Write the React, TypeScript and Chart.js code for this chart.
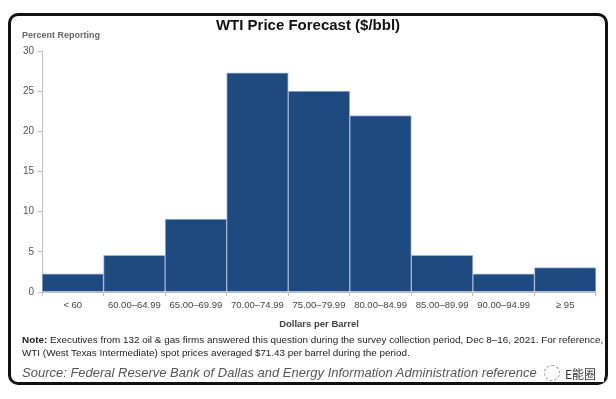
import React, { useEffect, useRef } from "react";
import { Chart, registerables } from "chart.js";

Chart.register(...registerables);

const categories = [
  "< 60",
  "60.00–64.99",
  "65.00–69.99",
  "70.00–74.99",
  "75.00–79.99",
  "80.00–84.99",
  "85.00–89.99",
  "90.00–94.99",
  "≥ 95",
];
const percentReporting = [2.27, 4.55, 9.09, 27.27, 25.0, 21.97, 4.55, 2.27, 3.03];
const yTicks = [0, 5, 10, 15, 20, 25, 30];

const FONT = "'Liberation Sans', Arial, sans-serif";

export default function App() {
  const ref = useRef<HTMLCanvasElement | null>(null);

  useEffect(() => {
    if (!ref.current) return;
    const chart = new Chart(ref.current, {
      type: "bar",
      data: {
        labels: categories,
        datasets: [
          {
            data: percentReporting,
            backgroundColor: "#1f4a80",
            borderColor: "#9db6d8",
            borderWidth: 1,
            barPercentage: 1,
            categoryPercentage: 1,
          },
        ],
      },
      options: {
        animation: false,
        responsive: false,
        maintainAspectRatio: false,
        layout: { padding: { left: 0, right: 20, top: 51, bottom: 0 } },
        plugins: {
          legend: { display: false },
          tooltip: { enabled: false },
          title: { display: false },
        },
        scales: {
          x: {
            grid: {
              display: true,
              drawOnChartArea: false,
              offset: true,
              tickLength: 4,
              color: "#bfbfbf",
            },
            border: { display: true, color: "#bfbfbf", width: 1 },
            ticks: {
              font: { family: FONT, size: 9.5 },
              color: "#444",
              padding: 4,
              maxRotation: 0,
              autoSkip: false,
            },
            afterFit: (s: any) => {
              s.height = 38;
            },
          },
          y: {
            min: 0,
            max: 30,
            afterBuildTicks: (s: any) => {
              s.ticks = yTicks.map((v) => ({ value: v }));
            },
            grid: {
              display: true,
              drawOnChartArea: false,
              tickLength: 4,
              color: "#bfbfbf",
            },
            border: { display: true, color: "#bfbfbf", width: 1 },
            ticks: {
              font: { family: FONT, size: 10 },
              color: "#555",
              padding: 4,
            },
            afterFit: (s: any) => {
              s.width = 42;
            },
          },
        },
      },
    });
    return () => chart.destroy();
  }, []);

  const text: React.CSSProperties = { position: "absolute", fontFamily: FONT, whiteSpace: "nowrap", margin: 0 };

  return (
    <div style={{ position: "fixed", left: 0, top: 0, width: 616, height: 399, background: "#fff", overflow: "hidden" }}>
      <div
        style={{
          position: "absolute",
          left: 8,
          top: 13,
          width: 600,
          height: 372,
          border: "3px solid #111",
          borderRadius: 10,
          boxSizing: "border-box",
        }}
      />
      <canvas ref={ref} width={616} height={330} style={{ position: "absolute", left: 0, top: 0, width: 616, height: 330 }} />
      <div style={{ ...text, left: 0, width: 616, top: 16, textAlign: "center", fontSize: 15, fontWeight: "bold", color: "#111" }}>
        WTI Price Forecast ($/bbl)
      </div>
      <div style={{ ...text, left: 22, top: 30, fontSize: 9, fontWeight: "bold", color: "#666" }}>Percent Reporting</div>
      <div style={{ ...text, left: 42, width: 554, top: 318, textAlign: "center", fontSize: 9.5, fontWeight: "bold", color: "#444" }}>
        Dollars per Barrel
      </div>
      <div style={{ ...text, left: 22, top: 333, fontSize: 9.9, lineHeight: "13px", color: "#222" }}>
        <b>Note:</b> Executives from 132 oil &amp; gas firms answered this question during the survey collection period, Dec 8–16, 2021. For reference,
        <br />
        WTI (West Texas Intermediate) spot prices averaged $71.43 per barrel during the period.
      </div>
      <div style={{ ...text, left: 22, top: 365, fontSize: 13, fontStyle: "italic", color: "#555" }}>
        Source: Federal Reserve Bank of Dallas and Energy Information Administration reference prices.
      </div>
      <div style={{ ...text, left: 540, top: 364, height: 18, width: 64, background: "#fff", display: "flex", alignItems: "center", gap: 5 }}>
        <span
          style={{
            display: "inline-block",
            width: 14,
            height: 14,
            border: "1px dashed #999",
            borderRadius: "50%",
            marginLeft: 4,
          }}
        />
        <span style={{ fontSize: 12, color: "#333", fontFamily: "'Noto Sans CJK SC', sans-serif" }}>E能圈</span>
      </div>
    </div>
  );
}
